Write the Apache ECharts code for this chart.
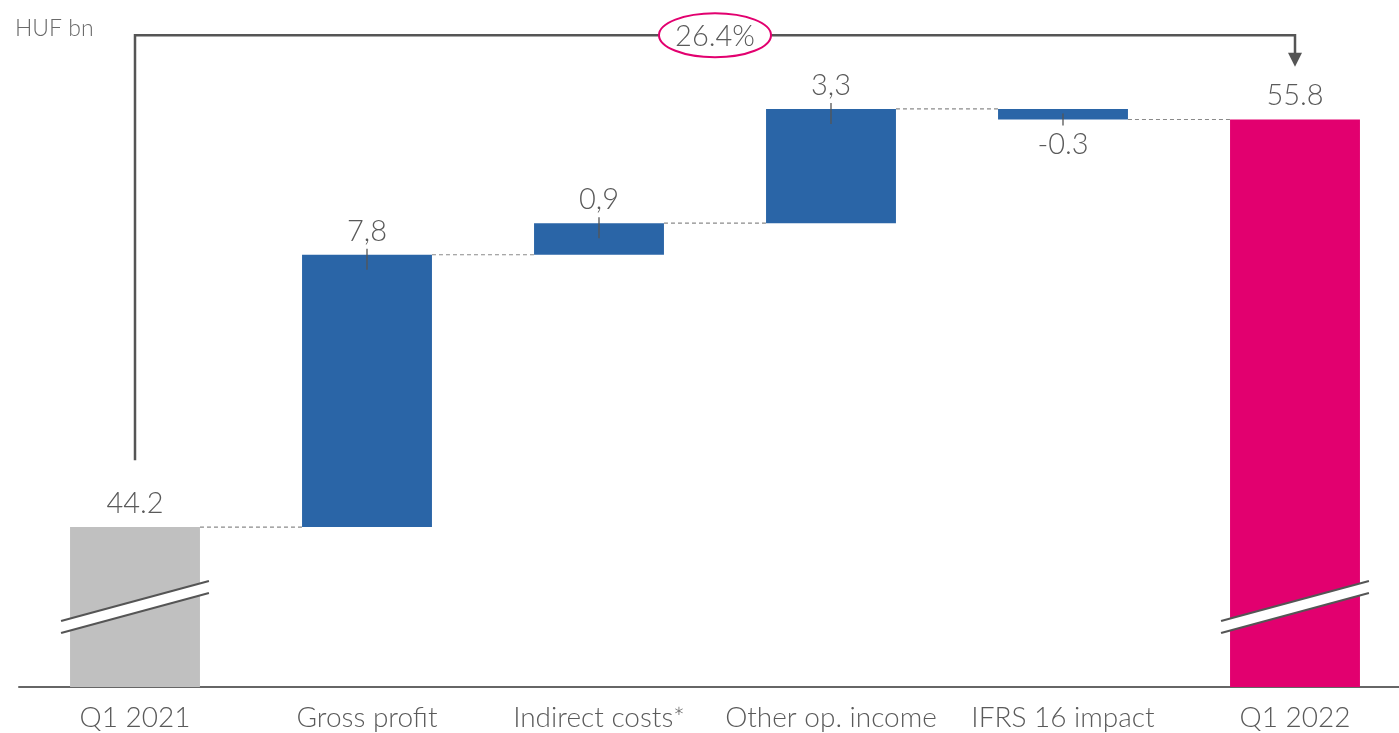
<!DOCTYPE html>
<html><head><meta charset="utf-8">
<script src="https://cdn.jsdelivr.net/npm/echarts@6/dist/echarts.min.js"></script>
<style>html,body{margin:0;padding:0;background:#fff}#c{width:1399px;height:733px}</style>
</head><body><div id="c"></div>
<script>
// ---- data ----
const categories = ['Q1 2021', 'Gross profit', 'Indirect costs*', 'Other op. income', 'IFRS 16 impact', 'Q1 2022'];
const startValue = 44.2;
const deltas = [7.75, 0.9, 3.25, -0.3];
const endValue = 55.8;
const valueLabels = ['44.2', '7,8', '0,9', '3,3', '-0.3', '55.8'];
const changeLabel = '26.4%';
const unitLabel = 'HUF bn';

// ---- layout / style ----
const Y_MIN = 39.65, Y_MAX = 59.2;
const FONT = 'Lato';
const TEXT = '#5a5a5a';
const C_START = '#c0c0c0', C_STEP = '#2a65a7', C_END = '#e2006f', C_LINE = '#555555';

// build waterfall rows: [index, low, high, kind, level, negative]
const rows = [];
let run = startValue;
rows.push([0, Y_MIN, startValue, 0, startValue, 0]);
deltas.forEach((d, k) => {
  const next = run + d;
  rows.push([k + 1, Math.min(run, next), Math.max(run, next), 1, next, d < 0 ? 1 : 0]);
  run = next;
});
rows.push([categories.length - 1, Y_MIN, endValue, 2, endValue, 0]);

function renderBar(params, api) {
  const i = api.value(0), low = api.value(1), high = api.value(2);
  const kind = api.value(3), level = api.value(4), neg = api.value(5);
  const pTop = api.coord([i, high]);
  const pBot = api.coord([i, low]);
  const cx = pTop[0];
  const bw = api.size([1, 0])[0] * 0.56;
  const fill = kind === 0 ? C_START : (kind === 2 ? C_END : C_STEP);
  const ch = [];
  ch.push({type: 'rect', shape: {x: cx - bw / 2, y: pTop[1], width: bw, height: pBot[1] - pTop[1]}, style: {fill: fill}});
  if (i < categories.length - 1) {
    const a = api.coord([i, level]);
    const b = api.coord([i + 1, level]);
    ch.push({type: 'line', shape: {x1: a[0] + bw / 2, y1: a[1], x2: b[0] - bw / 2, y2: b[1]},
      style: {stroke: '#8a8a8a', lineWidth: 1.2, lineDash: [4, 3]}});
  }
  if (kind === 1) {
    const ty = neg ? pBot[1] : pTop[1];
    ch.push({type: 'line', shape: {x1: cx, y1: ty - 6, x2: cx, y2: neg ? ty + 6 : ty + 15},
      style: {stroke: C_LINE, lineWidth: 1.3}});
  }
  ch.push({type: 'text', style: {
    text: valueLabels[i], x: cx, y: neg ? pBot[1] + 11 : pTop[1] - 9,
    align: 'center', verticalAlign: neg ? 'top' : 'bottom',
    font: '300 29px ' + FONT, fill: TEXT}});
  if (kind !== 1) {
    const base = api.coord([i, Y_MIN])[1];
    const x1 = cx - bw / 2 - 9, x2 = cx + bw / 2 + 9;
    ch.push({type: 'polygon', shape: {points: [[x1, base - 66], [x2, base - 106], [x2, base - 94], [x1, base - 54]]},
      style: {fill: '#fff'}});
    ch.push({type: 'line', shape: {x1: x1, y1: base - 66, x2: x2, y2: base - 106}, style: {stroke: C_LINE, lineWidth: 2}});
    ch.push({type: 'line', shape: {x1: x1, y1: base - 54, x2: x2, y2: base - 94}, style: {stroke: C_LINE, lineWidth: 2}});
  }
  return {type: 'group', children: ch};
}

// arrow levels (layout, in axis units)
const ARROW_START = 46.1, ARROW_TOP = 58.2, ARROW_TIP = 57.3;
function renderArrow(params, api) {
  const a = api.coord([api.value(0), ARROW_START]);
  const t0 = api.coord([api.value(0), ARROW_TOP]);
  const t1 = api.coord([api.value(1), ARROW_TOP]);
  const tip = api.coord([api.value(1), ARROW_TIP]);
  const mx = (t0[0] + t1[0]) / 2;
  return {type: 'group', children: [
    {type: 'polyline', shape: {points: [[a[0], a[1]], [t0[0], t0[1]], [t1[0], t1[1]], [tip[0], tip[1] - 12]]},
      style: {stroke: C_LINE, lineWidth: 2.5, fill: null}},
    {type: 'polygon', shape: {points: [[tip[0] - 7, tip[1] - 14], [tip[0] + 7, tip[1] - 14], [tip[0], tip[1]]]},
      style: {fill: C_LINE}},
    {type: 'ellipse', shape: {cx: mx, cy: t0[1], rx: 56, ry: 22}, style: {fill: '#fff', stroke: C_END, lineWidth: 2}},
    {type: 'text', style: {text: changeLabel, x: mx, y: t0[1] + 1, align: 'center', verticalAlign: 'middle',
      font: '300 29px ' + FONT, fill: TEXT}}
  ]};
}

const chart = echarts.init(document.getElementById('c'), null, {renderer: 'canvas'});
chart.setOption({
  animation: false,
  title: {text: unitLabel, left: 10, top: 12, textStyle: {fontFamily: FONT, fontWeight: 300, fontSize: 23, color: '#6a6a6a'}},
  grid: {left: 19, width: 1392, top: 0, bottom: 46, containLabel: false, outerBoundsMode: 'none'},
  xAxis: {type: 'category', data: categories,
    axisLine: {lineStyle: {color: '#666', width: 2}}, axisTick: {show: false},
    axisLabel: {fontFamily: FONT, fontWeight: 300, fontSize: 28, color: TEXT, margin: 17, interval: 0}},
  yAxis: {type: 'value', min: Y_MIN, max: Y_MAX, show: false, splitLine: {show: false}},
  series: [
    {type: 'custom', renderItem: renderBar, data: rows, clip: false, z: 2},
    {type: 'custom', renderItem: renderArrow, data: [[0, categories.length - 1]], clip: false, z: 3}
  ]
});
</script></body></html>
